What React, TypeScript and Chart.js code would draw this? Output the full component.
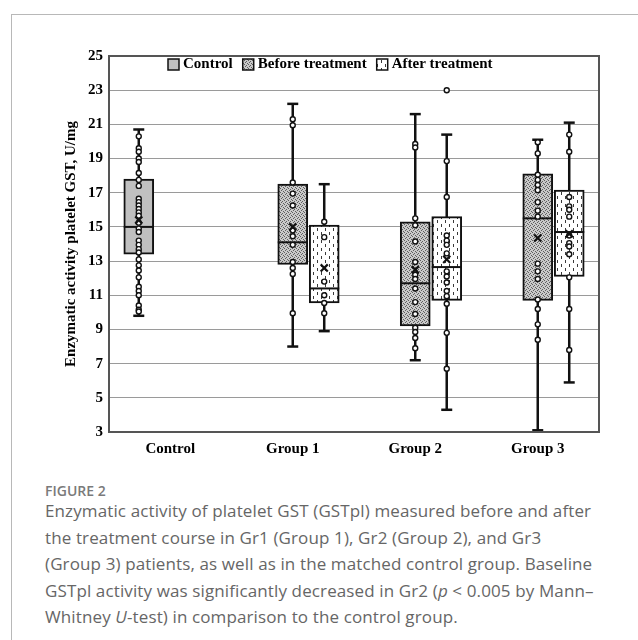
import React, { useEffect, useRef } from 'react';
import { Chart, registerables } from 'chart.js';
Chart.register(...registerables);

const categories = ['Control', 'Group 1', 'Group 2', 'Group 3'];
const seriesNames = ['Control', 'Before treatment', 'After treatment'];
const yMin = 3;
const yMax = 25;
const yStep = 2;
const yTitle = 'Enzymatic activity platelet GST, U/mg';

// box statistics: [min, q1, median, q3, max, mean]
const controlStats = [9.8, 13.4, 15.0, 17.8, 20.7, 15.4];
const beforeStats = [
  [8.0, 12.8, 14.1, 17.5, 22.2, 15.0],
  [7.2, 9.2, 11.7, 15.3, 21.6, 12.5],
  [3.1, 10.7, 15.5, 18.1, 20.1, 14.35],
];
const afterStats = [
  [8.9, 10.55, 11.4, 15.1, 17.5, 12.6],
  [4.3, 10.7, 12.65, 15.6, 20.4, 13.1],
  [5.9, 12.1, 14.7, 17.15, 21.1, 14.6],
];

// individual observations
const controlPoints = [20.3, 19.6, 19.4, 19.0, 18.8, 18.15, 17.75, 17.4, 16.65, 16.45, 16.25, 16.05, 15.85, 15.65, 15.25, 14.9, 14.7, 14.2, 13.95, 13.7, 13.5, 13.1, 12.75, 12.45, 12.05, 11.5, 11.25, 11.0, 10.4, 10.15, 10.05];
const beforePoints = [
  [21.3, 20.95, 17.6, 16.95, 16.25, 14.8, 14.45, 13.95, 12.95, 12.6, 12.25, 9.95],
  [19.85, 19.65, 15.5, 15.1, 14.15, 12.95, 12.2, 11.95, 11.4, 10.6, 9.9, 9.1, 8.85, 8.5, 7.9],
  [19.95, 19.3, 18.05, 17.75, 17.45, 17.15, 16.45, 15.95, 15.6, 12.85, 12.4, 11.95, 10.75, 10.2, 9.3, 8.4],
];
const afterPoints = [
  [15.3, 14.4, 11.8, 11.0, 10.55, 9.95],
  [23.0, 18.85, 16.75, 14.5, 14.2, 13.95, 13.45, 12.4, 12.1, 11.75, 11.25, 10.95, 10.5, 8.8, 6.7],
  [20.4, 19.4, 16.75, 16.2, 16.0, 15.6, 14.5, 14.05, 13.85, 13.4, 12.05, 10.2, 7.8],
];

const SLOT = 0.257;
const SERIF = '"Liberation Serif", "Times New Roman", serif';

function makePattern(kind: string): CanvasPattern | string {
  const c = document.createElement('canvas');
  const ctx = c.getContext('2d');
  if (!ctx) return '#bbb';
  if (kind === 'before') {
    c.width = 4; c.height = 4;
    ctx.fillStyle = '#c9c9c9';
    ctx.fillRect(0, 0, 4, 4);
    ctx.fillStyle = '#5e5e5e';
    [[0, 0], [2, 1], [1, 2], [3, 3]].forEach(([x, y]) => ctx.fillRect(x, y, 1, 1));
  } else {
    c.width = 8; c.height = 8;
    ctx.fillStyle = '#ffffff';
    ctx.fillRect(0, 0, 8, 8);
    ctx.fillStyle = '#3a3a3a';
    ctx.fillRect(1, 0, 1, 3);
    ctx.fillRect(5, 4, 1, 3);
  }
  return ctx.createPattern(c, 'repeat') || '#bbb';
}

export default function App() {
  const ref = useRef<HTMLCanvasElement>(null);

  useEffect(() => {
    if (!ref.current) return;
    const fills = ['#c0c0c0', makePattern('before'), makePattern('after')];

    type Box = { x: number; s: number[]; p: number[]; series: number };
    const boxes: Box[] = [];
    boxes.push({ x: 0 - SLOT, s: controlStats, p: controlPoints, series: 0 });
    beforeStats.forEach((s, i) => boxes.push({ x: i + 1, s, p: beforePoints[i], series: 1 }));
    afterStats.forEach((s, i) => boxes.push({ x: i + 1 + SLOT, s, p: afterPoints[i], series: 2 }));

    const whisker: any[] = [];
    const caps: any[] = [];
    const medians: any[] = [];
    const means: any[] = [];
    const pts: any[] = [];
    const barData: any[][] = [[], [], []];
    boxes.forEach((b) => {
      barData[b.series].push({ x: b.x, y: [b.s[1], b.s[3]] });
      whisker.push({ x: b.x, y: b.s[0] }, { x: b.x, y: b.s[4] }, { x: b.x + 0.01, y: null });
      caps.push({ x: b.x, y: b.s[0] }, { x: b.x, y: b.s[4] });
      medians.push({ x: b.x, y: b.s[2] });
      means.push({ x: b.x, y: b.s[5] });
      b.p.forEach((v) => pts.push({ x: b.x, y: v }));
    });
    whisker.sort((a, b) => a.x - b.x);

    const barCommon = {
      type: 'bar' as const,
      borderColor: '#111',
      borderWidth: 2,
      borderSkipped: false,
      barThickness: 30,
      grouped: false,
      order: 5,
    };

    const legendPlugin = {
      id: 'boxLegendAndFrame',
      afterDraw(chart: any) {
        const { ctx, chartArea } = chart;
        ctx.save();
        ctx.strokeStyle = '#555';
        ctx.lineWidth = 2;
        ctx.strokeRect(chartArea.left, chartArea.top, chartArea.right - chartArea.left, chartArea.bottom - chartArea.top);
        ctx.font = `bold 15px ${SERIF}`;
        ctx.textBaseline = 'middle';
        let x = 168;
        const yc = 64.5;
        seriesNames.forEach((name, i) => {
          ctx.fillStyle = fills[i];
          ctx.fillRect(x, yc - 5.5, 11, 11);
          ctx.strokeStyle = '#111';
          ctx.lineWidth = 1.5;
          ctx.strokeRect(x, yc - 5.5, 11, 11);
          ctx.fillStyle = '#000';
          ctx.textAlign = 'left';
          ctx.fillText(name, x + 15, yc);
          x += 15 + ctx.measureText(name).width + 10;
        });
        ctx.restore();
      },
    };

    const chart = new Chart(ref.current, {
      type: 'bar',
      data: {
        datasets: [
          { ...barCommon, label: seriesNames[0], data: barData[0], backgroundColor: fills[0] as any },
          { ...barCommon, label: seriesNames[1], data: barData[1], backgroundColor: fills[1] as any },
          { ...barCommon, label: seriesNames[2], data: barData[2], backgroundColor: fills[2] as any },
          { type: 'line', label: 'whiskers', data: whisker, borderColor: '#111', borderWidth: 2.5, pointRadius: 0, spanGaps: false, order: 10 } as any,
          { type: 'scatter', label: 'caps', data: caps, pointStyle: 'line', pointRadius: 5.5, borderColor: '#111', pointBorderWidth: 2.5, borderWidth: 2.5, order: 3 } as any,
          { type: 'scatter', label: 'medians', data: medians, pointStyle: 'line', pointRadius: 15, borderColor: '#111', pointBorderWidth: 2, borderWidth: 2, order: 3 } as any,
          { type: 'scatter', label: 'points', data: pts, pointStyle: 'circle', pointRadius: 2.5, backgroundColor: '#fff', borderColor: '#111', pointBorderWidth: 1.4, borderWidth: 1.4, order: 2 } as any,
          { type: 'scatter', label: 'means', data: means, pointStyle: 'crossRot', pointRadius: 5, borderColor: '#111', pointBorderWidth: 2.2, borderWidth: 2.2, order: 1 } as any,
        ],
      },
      options: {
        animation: false,
        responsive: false,
        events: [],
        layout: { padding: { left: 62, right: 39, top: 56, bottom: 0 } },
        plugins: { legend: { display: false }, tooltip: { enabled: false } },
        scales: {
          x: {
            type: 'linear',
            min: -0.5,
            max: 3.5,
            offset: false,
            grid: { display: false, drawTicks: false, offset: false },
            border: { display: false },
            afterBuildTicks: (s: any) => { s.ticks = categories.map((_, i) => ({ value: i })); },
            ticks: {
              color: '#000',
              font: { family: SERIF, size: 15, weight: 'bold' },
              padding: 8,
              maxRotation: 0,
              autoSkip: false,
              callback: (v: any) => categories[Math.round(Number(v))] ?? '',
            },
            afterFit: (s: any) => { s.height = 38; },
          },
          y: {
            min: yMin,
            max: yMax,
            ticks: { stepSize: yStep, color: '#000', font: { family: SERIF, size: 15, weight: 'bold' }, padding: 6 },
            grid: { color: '#9a9a9a', lineWidth: 1, drawTicks: false },
            border: { display: false },
            title: { display: true, text: yTitle, color: '#000', font: { family: SERIF, size: 15, weight: 'bold' }, padding: 0 },
            afterFit: (s: any) => { s.width = 47; },
          },
        },
      } as any,
      plugins: [legendPlugin],
    });
    return () => chart.destroy();
  }, []);

  const cap: React.CSSProperties = {
    position: 'absolute',
    left: 45,
    whiteSpace: 'nowrap',
    fontFamily: '"Open Sans", "Noto Sans", sans-serif',
    fontSize: 17,
    letterSpacing: '0.12px',
    lineHeight: '26.5px',
    color: '#666666',
  };

  return (
    <div style={{ position: 'absolute', left: 0, top: 0, width: 638, height: 640, background: '#fff', overflow: 'hidden' }}>
      <div style={{ position: 'absolute', left: 11, top: 14, width: 640, height: 640, borderTop: '1px solid #b8b8b8', borderLeft: '1px solid #b8b8b8' }} />
      <canvas ref={ref} width={638} height={470} style={{ position: 'absolute', left: 0, top: 0, width: 638, height: 470 }} />
      <div style={{ position: 'absolute', left: 45, top: 483.6, fontFamily: '"Open Sans", "Noto Sans", sans-serif', fontSize: 14, lineHeight: '14px', fontWeight: 600, color: '#7a7a7a', whiteSpace: 'nowrap' }}>FIGURE 2</div>
      <div style={{ ...cap, top: 498.3 }}>Enzymatic activity of platelet GST (GSTpl) measured before and after</div>
      <div style={{ ...cap, top: 524.8 }}>the treatment course in Gr1 (Group 1), Gr2 (Group 2), and Gr3</div>
      <div style={{ ...cap, top: 551.3 }}>(Group 3) patients, as well as in the matched control group. Baseline</div>
      <div style={{ ...cap, top: 577.8 }}>GSTpl activity was significantly decreased in Gr2 (<i>p</i> &lt; 0.005 by Mann–</div>
      <div style={{ ...cap, top: 604.3 }}>Whitney <i>U</i>-test) in comparison to the control group.</div>
    </div>
  );
}
